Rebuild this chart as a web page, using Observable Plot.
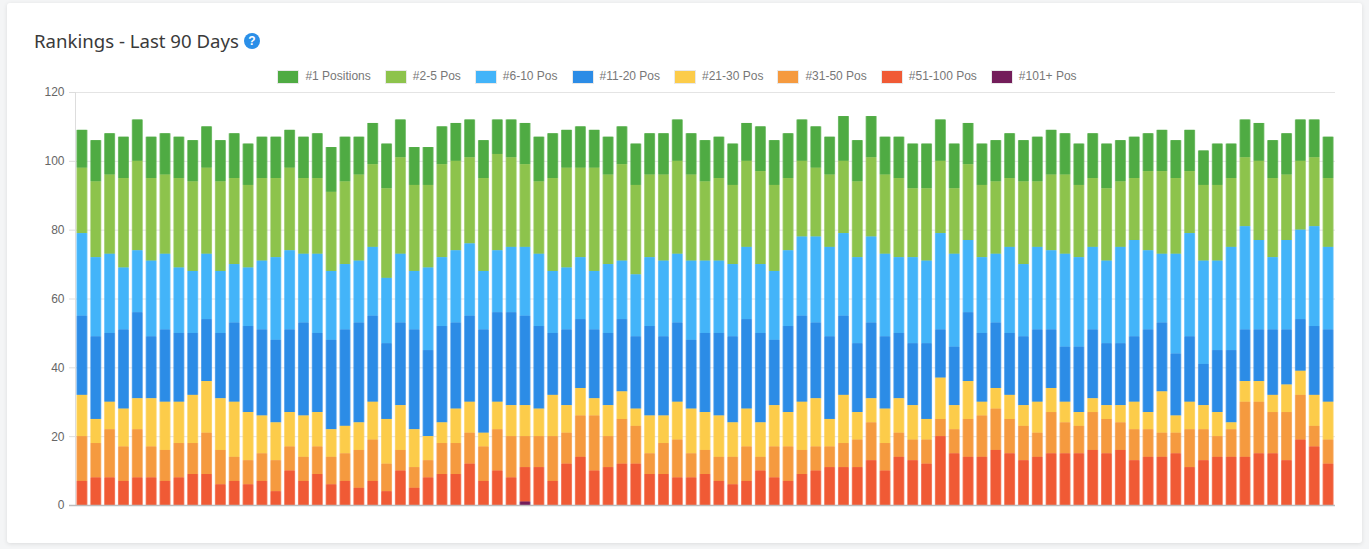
<!DOCTYPE html>
<html>
<head>
<meta charset="utf-8">
<script src="https://cdn.jsdelivr.net/npm/d3@7"></script>
<script src="https://cdn.jsdelivr.net/npm/@observablehq/plot@0.6"></script>
<style>
  html, body { margin: 0; padding: 0; background: #f4f5f6; width: 1369px; height: 549px; overflow: hidden; }
  #card { position: absolute; left: 7px; top: 3px; width: 1355px; height: 540px; background: #fff; border-radius: 3px; box-shadow: 0 1px 4px rgba(0,0,0,.10); }
  #title { position: absolute; left: 34px; top: 29px; font: 18.6px "Noto Sans", sans-serif; color: #3a3a3a; white-space: nowrap; line-height: 24px; }
  #help { position: absolute; left: 244px; top: 33px; width: 16px; height: 16px; border-radius: 50%; background: #2b8fe8; color: #fff; font: bold 12px/16px "Liberation Sans", sans-serif; text-align: center; }
  #legend { position: absolute; left: 0; top: 69px; width: 1354px; display: flex; justify-content: center; gap: 14px; font: 12px/15px "Liberation Sans", sans-serif; color: #777; }
  #legend .item { display: flex; align-items: center; gap: 6px; white-space: nowrap; }
  #legend .sw { width: 20px; height: 12px; border: 1px solid #e9e9e9; }
  #chart { position: absolute; left: 0; top: 84px; }
  #chart svg { display: block; }
</style>
</head>
<body>
<div id="card"></div>
<div id="title">Rankings - Last 90 Days</div>
<div id="help">?</div>
<div id="legend"></div>
<div id="chart"></div>
<script>
// Legend order, top of the stack first
const seriesNames = ["#1 Positions", "#2-5 Pos", "#6-10 Pos", "#11-20 Pos", "#21-30 Pos", "#31-50 Pos", "#51-100 Pos", "#101+ Pos"];
const seriesColors = ["#4fab43", "#8dc34c", "#43b4f9", "#2c8ce6", "#fccc4a", "#f59a3f", "#f05a35", "#731d5a"];
const yTicks = [0, 20, 40, 60, 80, 100, 120];

// Upper edge of each band
const top1 = [109,106,108,107,112,107,108,107,106,110,106,108,105,107,107,109,107,108,104,107,107,111,
  105,112,104,104,110,111,112,106,112,112,111,107,108,109,110,109,107,110,105,108,108,112,
  108,106,107,105,111,110,106,108,112,110,107,113,106,113,107,107,105,105,112,105,111,105,106,
  108,106,107,109,108,105,108,105,106,107,108,109,106,109,103,105,105,112,111,106,108,112,112,107];
const top2to5 = [98,94,96,95,100,95,96,95,94,98,94,95,93,95,95,98,95,95,91,94,96,99,
  92,101,93,93,99,100,101,95,102,101,99,94,95,98,98,98,96,99,93,96,96,100,
  96,94,95,93,100,97,93,95,100,98,96,100,94,101,96,95,92,92,100,92,99,93,94,
  95,94,94,96,96,93,95,92,94,95,97,97,95,97,93,93,95,101,100,95,96,100,101,95];
const top6to10 = [79,72,73,69,74,71,73,69,68,73,68,70,69,71,72,74,73,73,68,70,71,75,
  66,73,68,69,72,74,76,68,74,75,75,73,68,69,72,68,70,71,67,72,71,73,
  71,71,71,70,75,70,68,74,78,78,75,79,72,78,73,72,72,71,79,73,77,72,73,
  75,70,75,74,73,72,75,71,75,77,74,73,73,79,71,71,75,81,77,72,77,80,81,75];
const top11to20 = [55,49,50,51,56,49,51,50,50,54,50,53,52,51,48,51,53,50,48,51,53,55,
  47,53,51,45,52,53,55,51,56,56,55,52,50,51,54,51,50,54,49,52,49,53,
  48,50,50,49,54,50,48,52,55,53,49,55,47,53,49,50,47,47,51,46,56,50,53,
  50,49,51,51,46,46,51,47,47,49,51,53,44,49,41,45,45,51,51,51,51,54,52,51];
const top21to30 = [32,25,30,28,31,31,30,30,32,36,31,30,27,26,24,27,26,27,22,23,24,30,
  25,29,22,20,24,28,30,21,30,29,29,28,32,29,34,31,29,33,28,26,26,30,
  28,27,26,24,28,24,29,27,30,31,25,32,27,31,28,31,29,25,37,29,36,30,34,
  32,29,30,34,30,27,31,29,29,30,27,33,26,30,29,27,24,36,36,32,35,39,32,30];
const top31to50 = [20,18,22,17,22,17,16,18,18,21,16,14,13,15,13,17,14,17,14,15,16,19,
  12,16,11,13,18,18,21,17,22,20,20,20,20,21,26,26,20,25,23,15,18,19,
  15,16,14,14,17,14,17,17,16,17,17,18,19,24,18,21,19,19,25,22,25,26,28,
  25,23,21,27,24,23,27,25,24,22,22,21,21,22,22,20,22,30,30,27,27,32,23,19];
const top51to100 = [7,8,8,7,8,8,7,8,9,9,6,7,6,7,4,10,7,9,6,7,5,7,
  4,10,5,8,9,9,12,7,10,8,11,11,7,12,14,10,11,12,12,9,9,8,
  8,9,7,6,7,10,8,7,9,10,11,11,11,13,10,14,13,12,20,15,14,14,16,
  15,13,14,15,15,15,16,15,16,13,14,14,15,11,13,14,14,14,15,15,13,19,17,12];
// Only one day has a #101+ entry
const day101 = 32;
const top101 = top1.map((_, i) => (i === day101 ? 1 : 0));

const tops = [top1, top2to5, top6to10, top11to20, top21to30, top31to50, top51to100, top101];
const days = top1.map((_, i) => i);

// Long table: one row per day and band, band size = its top minus the next band's top
const rows = [];
seriesNames.forEach((name, s) => {
  days.forEach((d) => {
    const below = s + 1 < tops.length ? tops[s + 1][d] : 0;
    const value = tops[s][d] - below;
    if (value > 0) rows.push({day: d, series: name, value});
  });
});
const stackOrder = seriesNames.slice().reverse();

const legend = d3.select("#legend");
seriesNames.forEach((name, i) => {
  const it = legend.append("div").attr("class", "item");
  it.append("span").attr("class", "sw").style("background", seriesColors[i]);
  it.append("span").text(name);
});

const chart = Plot.plot({
  width: 1369,
  height: 445,
  marginLeft: 75,
  marginRight: 34,
  marginTop: 8,
  marginBottom: 24,
  style: {background: "transparent", fontFamily: "'Liberation Sans', sans-serif", fontSize: "12px", color: "#666"},
  x: {type: "band", domain: days, padding: 0, axis: null},
  y: {domain: [0, 120], label: null},
  color: {domain: seriesNames, range: seriesColors},
  marks: [
    Plot.ruleY(yTicks.filter((t) => t > 0), {stroke: "#e4e4e4"}),
    Plot.axisY({ticks: yTicks, tickSize: 6, tickPadding: 5, stroke: "#ddd", fill: "#666", label: null, fontSize: 12, strokeOpacity: 1, tickFormat: String}),
    Plot.frame({anchor: "left", stroke: "#ddd", strokeOpacity: 1}),
    Plot.barY(rows, {x: "day", y: "value", z: "series", fill: "series", order: stackOrder, fillOpacity: 0.75, insetLeft: 1.4, insetRight: 1.4}),
    Plot.barY(rows, {x: "day", y: "value", z: "series", fill: "series", order: stackOrder, insetLeft: 2.2, insetRight: 2.2}),
    Plot.ruleY([0], {stroke: "#bbb", strokeWidth: 1.5, insetLeft: -6})
  ]
});
document.getElementById("chart").appendChild(chart);
</script>
</body>
</html>
